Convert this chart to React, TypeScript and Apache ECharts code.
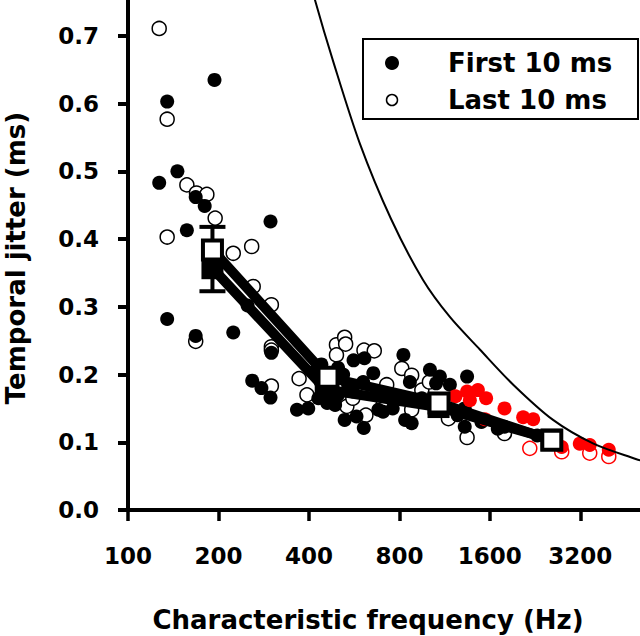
import React, { useEffect, useRef } from "react";
import * as echarts from "echarts";

// ---- data (frequency in Hz, jitter in ms) ----
const xTickFreqs = [100, 200, 400, 800, 1600, 3200];
const yTickValues = [0, 0.1, 0.2, 0.3, 0.4, 0.5, 0.6, 0.7];

const firstFreq = [135, 194, 146, 127, 168, 180, 298, 157, 135, 168, 224, 250, 300, 259, 278, 298, 200, 365, 398, 420, 440, 430, 460, 480, 500, 500, 520, 540, 560, 489, 526, 563, 576, 609, 612, 606, 655, 681, 706, 760, 825, 836, 879, 867, 950, 1011, 1060, 1091, 1178, 1150, 1250, 1320, 1320, 1344, 1500, 1700, 1790, 2300];
const firstJitter = [0.603, 0.635, 0.5, 0.483, 0.462, 0.449, 0.426, 0.413, 0.282, 0.257, 0.262, 0.302, 0.232, 0.191, 0.18, 0.166, 0.37, 0.148, 0.15, 0.205, 0.215, 0.165, 0.158, 0.19, 0.21, 0.17, 0.2, 0.185, 0.175, 0.155, 0.133, 0.221, 0.138, 0.121, 0.224, 0.189, 0.202, 0.148, 0.145, 0.15, 0.229, 0.133, 0.128, 0.189, 0.165, 0.207, 0.187, 0.197, 0.185, 0.15, 0.14, 0.15, 0.123, 0.197, 0.13, 0.12, 0.123, 0.11];

const lastFreq = [127, 135, 157, 169, 183, 195, 135, 224, 258, 168, 261, 300, 300, 300, 300, 371, 394, 494, 494, 526, 530, 535, 610, 619, 660, 706, 726, 815, 879, 879, 950, 1007, 1165, 1344, 1790, 440, 470, 560];
const lastJitter = [0.711, 0.577, 0.48, 0.468, 0.466, 0.431, 0.403, 0.379, 0.389, 0.249, 0.33, 0.303, 0.241, 0.236, 0.183, 0.194, 0.17, 0.244, 0.229, 0.255, 0.245, 0.153, 0.236, 0.14, 0.235, 0.155, 0.185, 0.209, 0.199, 0.148, 0.177, 0.189, 0.135, 0.107, 0.113, 0.19, 0.2, 0.165];

const redFirstFreq = [1230, 1344, 1373, 1460, 1540, 1555, 1790, 2065, 2230, 2775, 3187, 3440, 3980];
const redFirstJitter = [0.168, 0.175, 0.162, 0.177, 0.134, 0.165, 0.15, 0.137, 0.134, 0.093, 0.098, 0.096, 0.089];

const redLastFreq = [2173, 2775, 3440, 3980];
const redLastJitter = [0.091, 0.086, 0.084, 0.079];

const meanFirstFreq = [191, 455, 1080, 2570];
const meanFirstJitter = [0.357, 0.178, 0.152, 0.104];
const meanLastFreq = [191, 463, 1084, 2572];
const meanLastJitter = [0.384, 0.196, 0.158, 0.103];

const errorBarFreq = 191;
const errorBarLow = 0.323;
const errorBarHigh = 0.418;

const curveFreq = [400, 419, 482, 591, 750, 958, 1178, 1482, 1914, 2597, 3540, 4920, 5100];
const curveJitter = [0.79, 0.753, 0.662, 0.541, 0.43, 0.34, 0.285, 0.237, 0.185, 0.133, 0.098, 0.075, 0.073];

// ---- helpers ----
const lx = (f: number) => Math.log2(f / 100);
const pairs = (fs: number[], vs: number[]) => fs.map((f, i) => [lx(f), vs[i]]);

const FONT = "DejaVu Sans";

export default function App() {
  const ref = useRef<HTMLDivElement>(null);

  useEffect(() => {
    if (!ref.current) return;
    const chart = echarts.init(ref.current, null, { renderer: "svg" });

    const labelStyle = {
      color: "#000",
      fontFamily: FONT,
      fontWeight: "bold" as const,
      fontSize: 23,
    };

    const option: any = {
      animation: false,
      backgroundColor: "#fff",
      grid: { left: 128, right: 0, top: 0, bottom: 126, containLabel: false },
      xAxis: {
        type: "value",
        min: 0,
        max: 5.66,
        interval: 1,
        splitLine: { show: false },
        axisLine: { lineStyle: { color: "#000", width: 4 } },
        axisTick: {
          length: 11,
          lineStyle: { color: "#000", width: 3.5 },
          customValues: xTickFreqs.map(lx),
        },
        axisLabel: {
          ...labelStyle,
          margin: 34,
          customValues: xTickFreqs.map(lx),
          formatter: (v: number) =>
            Math.abs(v - Math.round(v)) < 1e-6 ? String(Math.round(100 * Math.pow(2, v))) : "",
        },
      },
      yAxis: {
        type: "value",
        min: 0,
        max: 0.753,
        interval: 0.1,
        splitLine: { show: false },
        axisLine: { lineStyle: { color: "#000", width: 4 } },
        axisTick: {
          length: 10,
          lineStyle: { color: "#000", width: 4 },
          customValues: yTickValues,
        },
        axisLabel: {
          ...labelStyle,
          margin: 29,
          customValues: yTickValues,
          formatter: (v: number) => v.toFixed(1),
        },
      },
      graphic: [
        {
          type: "text",
          x: 368,
          y: 620,
          style: {
            text: "Characteristic frequency (Hz)",
            fill: "#000",
            font: `bold 26px "${FONT}"`,
            align: "center",
            verticalAlign: "middle",
          },
        },
        {
          type: "text",
          x: 16,
          y: 258,
          rotation: Math.PI / 2,
          style: {
            text: "Temporal jitter (ms)",
            fill: "#000",
            font: `bold 26px "${FONT}"`,
            align: "center",
            verticalAlign: "middle",
          },
        },
        {
          type: "rect",
          shape: { x: 363, y: 39, width: 275, height: 80 },
          style: { fill: "#fff", stroke: "#000", lineWidth: 2 },
          z: 100,
        },
        {
          type: "circle",
          shape: { cx: 392, cy: 63, r: 7 },
          style: { fill: "#000" },
          z: 101,
        },
        {
          type: "circle",
          shape: { cx: 392, cy: 100, r: 5.5 },
          style: { fill: "#fff", stroke: "#000", lineWidth: 1.5 },
          z: 101,
        },
        {
          type: "text",
          x: 448,
          y: 63,
          z: 101,
          style: {
            text: "First 10 ms",
            fill: "#000",
            font: `bold 26px "${FONT}"`,
            align: "left",
            verticalAlign: "middle",
          },
        },
        {
          type: "text",
          x: 448,
          y: 100,
          z: 101,
          style: {
            text: "Last 10 ms",
            fill: "#000",
            font: `bold 26px "${FONT}"`,
            align: "left",
            verticalAlign: "middle",
          },
        },
      ],
      series: [
        {
          name: "Last 10 ms",
          type: "scatter",
          symbol: "circle",
          symbolSize: 14,
          data: pairs(lastFreq, lastJitter),
          itemStyle: { color: "#fff", borderColor: "#000", borderWidth: 1.5, opacity: 1 },
        },
        {
          name: "Last 10 ms (red)",
          type: "scatter",
          symbol: "circle",
          symbolSize: 14,
          data: pairs(redLastFreq, redLastJitter),
          itemStyle: { color: "#fff", borderColor: "#ff0000", borderWidth: 1.5, opacity: 1 },
        },
        {
          name: "First 10 ms",
          type: "scatter",
          symbol: "circle",
          symbolSize: 14,
          data: pairs(firstFreq, firstJitter),
          itemStyle: { color: "#000", borderColor: "#000", borderWidth: 0, opacity: 1 },
        },
        {
          name: "First 10 ms (red)",
          type: "scatter",
          symbol: "circle",
          symbolSize: 14,
          data: pairs(redFirstFreq, redFirstJitter),
          itemStyle: { color: "#ff0000", borderWidth: 0, opacity: 1 },
        },
        {
          name: "limit",
          type: "line",
          data: pairs(curveFreq, curveJitter),
          showSymbol: false,
          symbol: "none",
          smooth: 0.3,
          clip: true,
          lineStyle: { color: "#000", width: 2 },
        },
        {
          name: "Mean first",
          type: "line",
          data: pairs(meanFirstFreq, meanFirstJitter),
          symbol: "rect",
          symbolSize: 22,
          lineStyle: { color: "#000", width: 10 },
          itemStyle: { color: "#000", borderWidth: 0 },
        },
        {
          name: "Error",
          type: "custom",
          data: [[lx(errorBarFreq), errorBarLow, errorBarHigh]],
          encode: { x: 0, y: [1, 2] },
          renderItem: (params: any, api: any) => {
            const xv = api.value(0);
            const lo = api.coord([xv, api.value(1)]);
            const hi = api.coord([xv, api.value(2)]);
            const hw = 13;
            const st = { stroke: "#000", lineWidth: 4 };
            return {
              type: "group",
              children: [
                { type: "line", shape: { x1: lo[0], y1: lo[1], x2: hi[0], y2: hi[1] }, style: st },
                { type: "line", shape: { x1: lo[0] - hw, y1: lo[1], x2: lo[0] + hw, y2: lo[1] }, style: st },
                { type: "line", shape: { x1: hi[0] - hw, y1: hi[1], x2: hi[0] + hw, y2: hi[1] }, style: st },
              ],
            };
          },
        },
        {
          name: "Mean last",
          type: "line",
          data: pairs(meanLastFreq, meanLastJitter),
          symbol: "rect",
          symbolSize: 19,
          lineStyle: { color: "#000", width: 10 },
          itemStyle: { color: "#fff", borderColor: "#000", borderWidth: 4 },
        },
      ],
    };

    chart.setOption(option);
    return () => chart.dispose();
  }, []);

  return (
    <div
      ref={ref}
      style={{ position: "fixed", left: 0, top: 0, width: 640, height: 636, background: "#fff" }}
    />
  );
}
